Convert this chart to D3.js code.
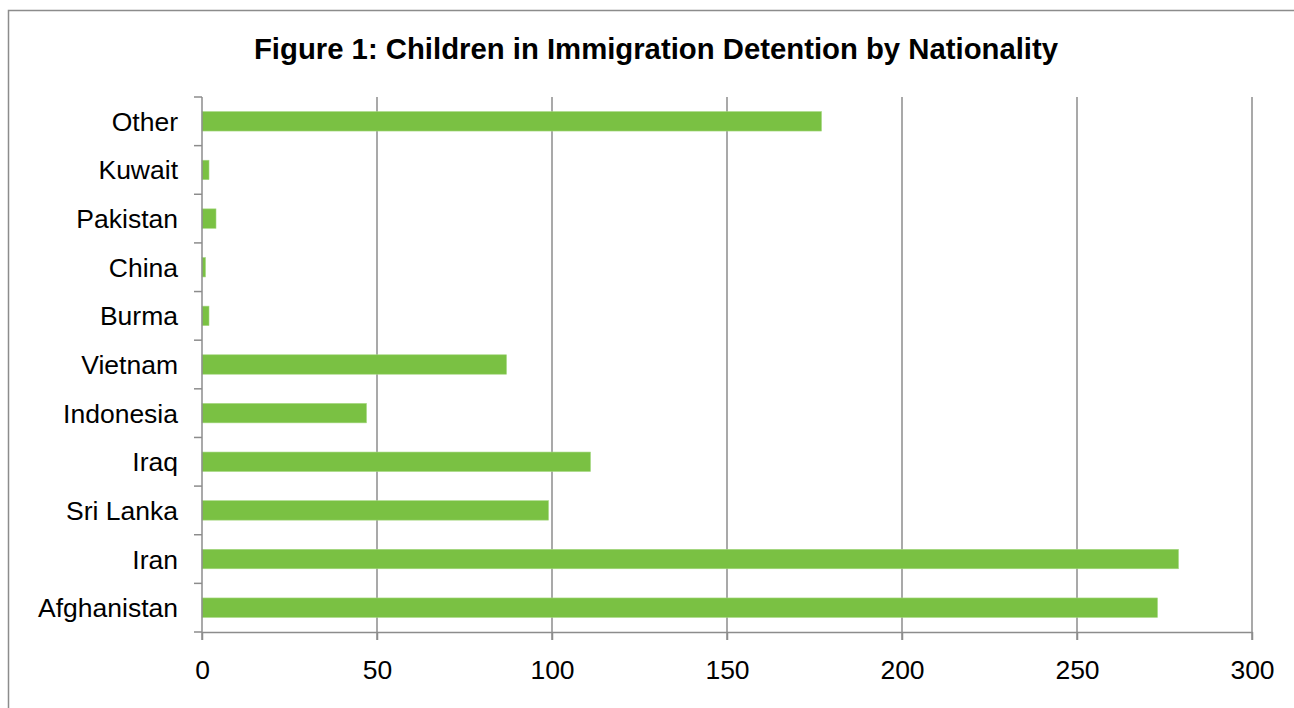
<!DOCTYPE html>
<html><head><meta charset="utf-8">
<script src="https://cdn.jsdelivr.net/npm/d3@7"></script>
<style>body{margin:0;background:#fff;}svg{display:block;font-family:"Liberation Sans",Arial,sans-serif;}</style>
</head><body>
<svg id="c" width="1294" height="708"></svg>
<script>
const categories = ["Afghanistan","Iran","Sri Lanka","Iraq","Indonesia","Vietnam","Burma","China","Pakistan","Kuwait","Other"];
const values = [273,279,99,111,47,87,2,1,4,2,177];
const xTicks = [0,50,100,150,200,250,300];
const title = "Figure 1: Children in Immigration Detention by Nationality";

const svg = d3.select("#c");
// outer border
svg.append("path").attr("d","M8.5,708 L8.5,10.5 L1294,10.5").attr("fill","none").attr("stroke","#8c8c8c").attr("stroke-width",1.5);

svg.append("text").attr("x",656).attr("y",58.5).attr("text-anchor","middle")
  .attr("font-size",29.3).attr("font-weight","bold").attr("fill","#000").text(title);

const L=202, R=1252, T=97, B=632;
const x = d3.scaleLinear().domain([0,300]).range([L,R]);
const y = d3.scaleBand().domain(categories.slice().reverse()).range([T,B]).paddingInner(0.6).paddingOuter(0.3);
const yb = d3.scaleBand().domain(categories.slice().reverse()).range([T,B]);

// gridlines
svg.append("g").selectAll("line").data(xTicks.filter(d=>d>0)).join("line")
  .attr("x1",d=>x(d)).attr("x2",d=>x(d)).attr("y1",T).attr("y2",B+8)
  .attr("stroke","#8c8c8c").attr("stroke-width",1.5);

// bars
svg.append("g").selectAll("rect").data(categories).join("rect")
  .attr("x",x(0)).attr("y",(d)=>y(d)).attr("width",(d,i)=>x(values[i])-x(0)).attr("height",y.bandwidth())
  .attr("fill","#7ac143").attr("stroke","#a6d882").attr("stroke-width",0.6);

// x axis
const xa = svg.append("g").attr("transform",`translate(0,${B})`).call(d3.axisBottom(x).tickValues(xTicks).tickSize(8).tickPadding(20).tickSizeOuter(0));
xa.select(".domain").attr("stroke","#8c8c8c").attr("stroke-width",1.5);
xa.selectAll(".tick line").attr("stroke","#8c8c8c").attr("stroke-width",1.5);
xa.selectAll("text").attr("font-size",26.5).attr("fill","#000").attr("font-family","Liberation Sans, Arial, sans-serif");

// y axis line
svg.append("line").attr("x1",L).attr("x2",L).attr("y1",T).attr("y2",B+8).attr("stroke","#8c8c8c").attr("stroke-width",1.5);
// y tick marks at band boundaries
const bounds = categories.map(c=>yb(c)).concat([B]);
svg.append("g").selectAll("line").data(bounds).join("line")
  .attr("x1",L-8).attr("x2",L).attr("y1",d=>d).attr("y2",d=>d).attr("stroke","#8c8c8c").attr("stroke-width",1.5);
// y labels
svg.append("g").selectAll("text").data(categories).join("text")
  .attr("x",178).attr("y",d=>yb(d)+yb.bandwidth()/2).attr("dy","0.36em").attr("text-anchor","end")
  .attr("font-size",26.5).attr("fill","#000").text(d=>d);
</script>
</body></html>
